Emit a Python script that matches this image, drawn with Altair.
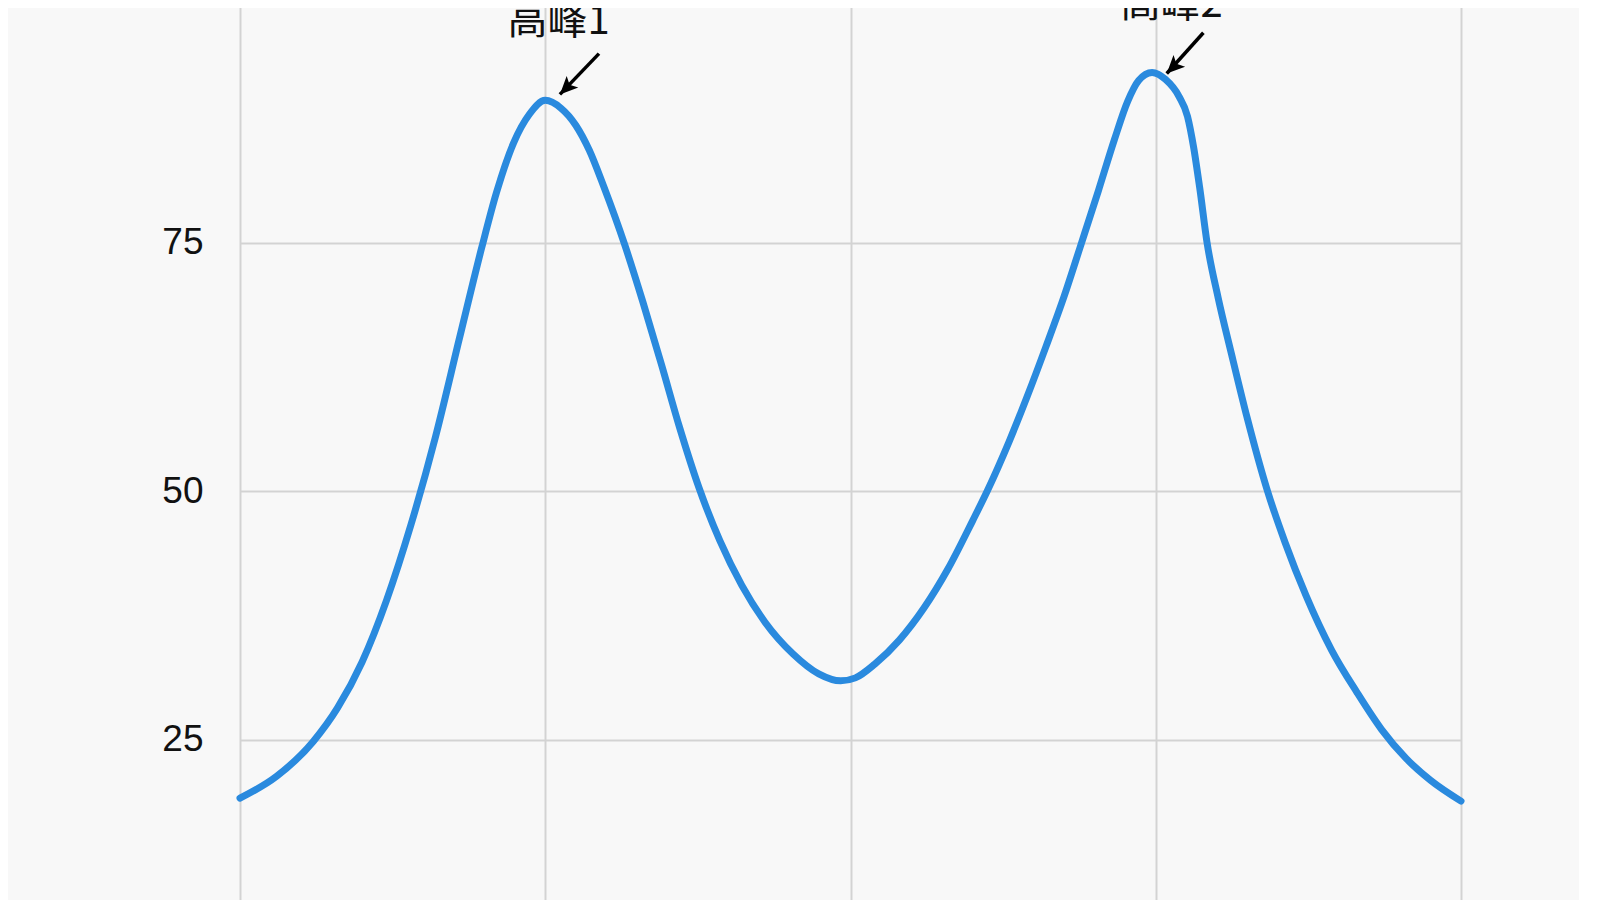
import altair as alt
import pandas as pd

# curve
xs = [0, 3, 6, 8, 10, 12, 14, 16, 18, 19.8, 21.0, 22.4, 23.7, 25.0,
      26.3, 27.5, 28.6, 29.8, 31.5, 33.0, 34.5, 36.0, 37.6, 39.3, 41.1, 43.0, 45.3,
      47.4, 49.2, 50.4, 52.0, 54.0, 56.0, 58.0, 60.0, 61.2, 63.0, 64.5, 66.0, 67.5,
      68.8, 70.3, 71.6, 72.7, 73.6, 74.7, 75.8, 76.9, 77.6, 78.1, 78.6, 79.2, 80.1,
      81.2, 82.5, 84.1, 85.6, 87.3, 89.4, 91.5, 93.5, 95.5, 97.5, 100]
ys = [19.1, 21.3, 24.8, 28.2, 32.8, 39.0, 46.6, 55.4, 65.5, 74.5, 80.0, 85.0, 87.9, 89.3,
      88.5, 86.8, 84.3, 80.6, 74.8, 69.0, 62.8, 56.4, 50.3, 45.0, 40.5, 36.8, 33.6,
      31.6, 30.9, 31.2, 32.6, 35.0, 38.2, 42.2, 47.0, 50.0, 55.0, 59.6, 64.5, 69.6,
      74.5, 80.2, 85.3, 89.2, 91.3, 92.1, 91.4, 89.7, 87.7, 84.6, 80.5, 75.0, 69.5,
      63.8, 57.3, 50.2, 44.8, 39.5, 34.0, 29.7, 26.0, 23.1, 20.9, 18.8]

# annotations
ann_labels = ["高峰1", "高峰2"]
ann_text_x = [26.1, 76.3]
ann_text_y = [97.2, 98.9]
arrow_x0 = [29.4, 78.9]
arrow_y0 = [94.0, 96.1]
arrow_x1 = [26.2, 75.9]
arrow_y1 = [89.9, 92.0]

y_ticks = [25, 50, 75, 100]
x_ticks = [0, 25, 50, 75, 100]

df = pd.DataFrame({"x": xs, "y": ys})
ann = pd.DataFrame({"label": ann_labels, "tx": ann_text_x, "ty": ann_text_y,
                    "x0": arrow_x0, "y0": arrow_y0, "x1": arrow_x1, "y1": arrow_y1})

xscale = alt.Scale(domain=[0, 100], nice=False, zero=False)
yscale = alt.Scale(domain=[0, 100], nice=False)

line = alt.Chart(df).mark_line(
    color="#2a8ade", strokeWidth=7, interpolate="monotone", strokeCap="round",
    strokeJoin="round"
).encode(
    x=alt.X("x:Q", scale=xscale, axis=alt.Axis(
        values=x_ticks, title=None, grid=True, domain=False, ticks=False,
        labels=False, gridColor="#d3d3d3", gridWidth=2)),
    y=alt.Y("y:Q", scale=yscale, axis=alt.Axis(
        values=y_ticks, title=None, grid=True, domain=False, ticks=False,
        labelFontSize=37, labelFont="Liberation Sans", labelColor="#111111",
        labelPadding=37, gridColor="#d3d3d3", gridWidth=2)),
)

arrows = alt.Chart(ann).mark_rule(color="#000000", strokeWidth=3.5).encode(
    x=alt.X("x0:Q", scale=xscale), y=alt.Y("y0:Q", scale=yscale),
    x2="x1:Q", y2="y1:Q",
)

heads = alt.Chart(ann).mark_point(
    shape="M0,0L-0.6,1.3L0,1.0L0.6,1.3Z", filled=True, color="#000000",
    opacity=1, size=750, angle=225,
).encode(x=alt.X("x1:Q", scale=xscale), y=alt.Y("y1:Q", scale=yscale))

texts = alt.Chart(ann).mark_text(
    font="Noto Sans CJK SC", fontSize=40, color="#111111", align="center",
    baseline="middle",
).encode(x=alt.X("tx:Q", scale=xscale), y=alt.Y("ty:Q", scale=yscale), text="label:N")

chart = alt.layer(line, arrows, heads, texts).properties(
    width=1221, height=994,
    background="#f8f8f8",
    padding={"left": 232, "top": -14, "right": 118, "bottom": 60},
    autosize=alt.AutoSizeParams(type="none"),
).configure_view(stroke=None)

chart.save("out.html", embed_options={"renderer": "svg", "actions": False})
